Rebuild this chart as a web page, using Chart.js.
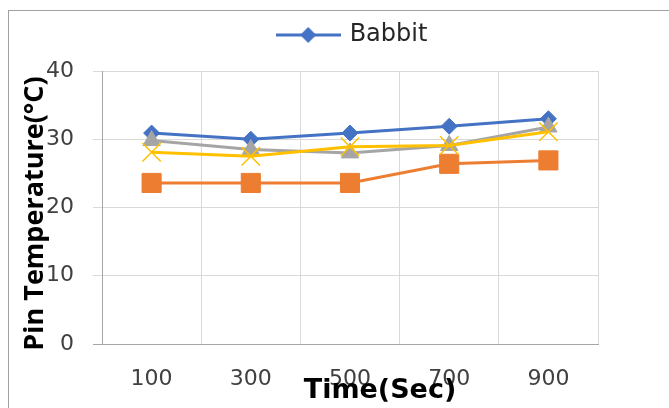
<!DOCTYPE html>
<html>
<head>
<meta charset="utf-8">
<script src="https://cdn.jsdelivr.net/npm/chart.js@4.4.1/dist/chart.umd.min.js"></script>
<style>
  html, body { margin: 0; padding: 0; background: #fff; overflow: hidden; }
  #wrap { position: relative; width: 669px; height: 408px; }
  #frame { position: absolute; left: 8px; top: 10px; width: 700px; height: 420px;
           border-left: 1px solid #a0a0a0; border-top: 1px solid #a0a0a0; pointer-events: none; }
</style>
</head>
<body>
<div id="wrap">
  <canvas id="chart" width="669" height="408"></canvas>
  <div id="frame"></div>
</div>
<script>
// ── Datos ─────────────────────────────────────────────
const times   = ['100', '300', '500', '700', '900'];
const babbit  = [30.9, 30.0, 30.9, 31.9, 33.0];
const series2 = [23.6, 23.6, 23.6, 26.4, 26.9];
const series3 = [29.8, 28.5, 28.0, 29.1, 31.8];
const series4 = [28.1, 27.5, 28.9, 29.1, 31.1];
const yTicks  = [0, 10, 20, 30, 40];

const BLUE = '#4472C4', ORANGE = '#ED7D31', GRAY = '#A5A5A5', GOLD = '#FFC000';

// muestra de leyenda: línea con rombo
function legendSwatch() {
  const c = document.createElement('canvas');
  c.width = 65; c.height = 18;
  const g = c.getContext('2d');
  g.strokeStyle = BLUE; g.lineWidth = 3;
  g.beginPath(); g.moveTo(0, 9); g.lineTo(65, 9); g.stroke();
  g.fillStyle = BLUE;
  g.beginPath(); g.moveTo(32.5, 1); g.lineTo(40.5, 9); g.lineTo(32.5, 17); g.lineTo(24.5, 9); g.closePath(); g.fill();
  return c;
}

// corre la leyenda a su sitio después del layout
const legendNudge = {
  id: 'legendNudge',
  afterLayout(chart) {
    const lg = chart.legend;
    if (!lg) return;
    lg.top -= 14; lg.bottom -= 14;
    lg.left += 54; lg.right += 54;
  }
};

// títulos de ejes, montados sobre las etiquetas como en Excel
const axisTitles = {
  id: 'axisTitles',
  afterDraw(chart) {
    const { ctx, chartArea } = chart;
    ctx.save();
    ctx.fillStyle = '#000';
    ctx.textAlign = 'center';
    ctx.textBaseline = 'middle';
    ctx.font = 'bold 27px "DejaVu Sans"';
    ctx.fillText('Time(Sec)', 380, 391);
    ctx.translate(35, (chartArea.top + chartArea.bottom) / 2 + 6);
    ctx.rotate(-Math.PI / 2);
    ctx.font = 'bold 27px "Open Sans"';
    ctx.fillText('Pin Temperature(°C)', 0, 0);
    ctx.restore();
  }
};

function serie(label, data, color, style, radius, order, extra = {}) {
  return Object.assign({
    label, data,
    borderColor: color, backgroundColor: color,
    borderWidth: 3, tension: 0,
    pointStyle: style, pointRadius: radius, pointHoverRadius: radius,
    pointBackgroundColor: color, pointBorderColor: color, pointBorderWidth: 1,
    order
  }, extra);
}

new Chart(document.getElementById('chart'), {
  type: 'line',
  data: {
    labels: times,
    datasets: [
      serie('Babbit',  babbit,  BLUE,   'rectRot',  8,    3),
      serie('Series2', series2, ORANGE, 'rect',     13.5, 2),
      serie('Series3', series3, GRAY,   'triangle', 10,   1),
      serie('Series4', series4, GOLD,   'crossRot', 13,   0, { pointBorderWidth: 1.5 })
    ]
  },
  options: {
    responsive: false,
    devicePixelRatio: 1,
    animation: false,
    layout: { padding: { top: 27, right: 71, left: 0, bottom: 0 } },
    plugins: {
      tooltip: { enabled: false },
      legend: {
        position: 'top',
        labels: {
          filter: item => item.datasetIndex === 0,
          usePointStyle: true,
          pointStyle: legendSwatch(),
          pointStyleWidth: 59,
          padding: 10,
          color: '#262626',
          font: { family: 'DejaVu Sans', size: 24 }
        }
      }
    },
    scales: {
      x: {
        offset: true,
        grid: { offset: true, color: '#d9d9d9', lineWidth: 1, drawTicks: false },
        border: { color: '#a6a6a6', width: 1 },
        ticks: { color: '#404040', padding: 22, font: { family: 'DejaVu Sans', size: 22 } },
        afterFit: s => { s.height = 64; }
      },
      y: {
        min: 0, max: 40,
        afterBuildTicks: s => { s.ticks = yTicks.map(v => ({ value: v })); },
        grid: {
          color: c => c.tick && c.tick.value === 0 ? '#a6a6a6' : '#d9d9d9',
          lineWidth: 1, drawTicks: true, tickLength: 9
        },
        border: { color: '#a6a6a6', width: 1 },
        ticks: { color: '#404040', padding: 19, font: { family: 'DejaVu Sans', size: 22 } },
        afterFit: s => { s.width = 102; }
      }
    }
  },
  plugins: [legendNudge, axisTitles]
});
</script>
</body>
</html>
